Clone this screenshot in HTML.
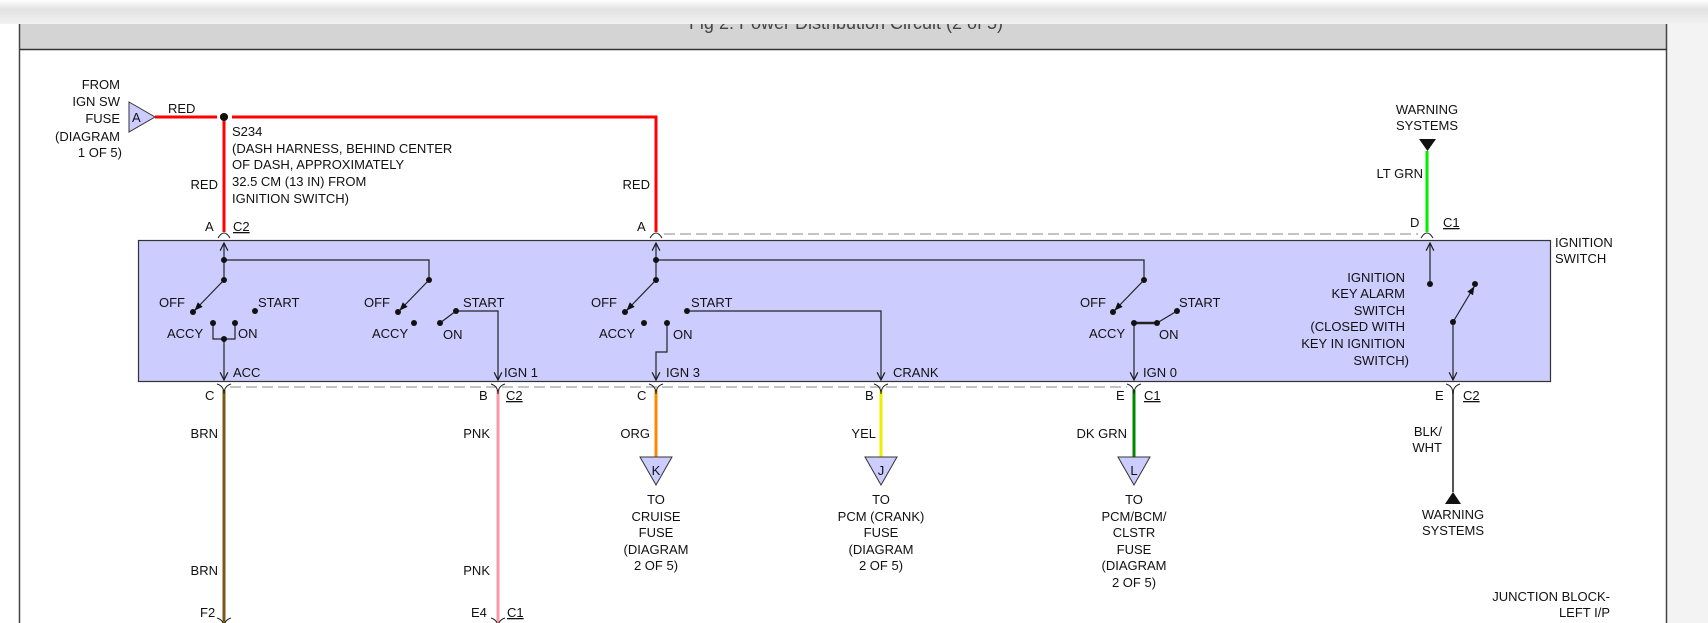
<!DOCTYPE html>
<html><head><meta charset="utf-8"><style>
html,body{margin:0;padding:0;background:#fff;width:1708px;height:623px;overflow:hidden}
svg{display:block}
text{font-family:"Liberation Sans",sans-serif;font-size:13px;fill:#111}
</style></head><body>
<svg width="1708" height="623" viewBox="0 0 1708 623">
<defs>
<linearGradient id="sh" x1="0" y1="0" x2="0" y2="1"><stop offset="0" stop-color="#fff"/><stop offset="0.4" stop-color="#e2e2e2"/><stop offset="1" stop-color="#f2f2f2"/></linearGradient>
<marker id="ar" viewBox="0 0 10 10" refX="9" refY="5" markerWidth="8" markerHeight="8" orient="auto-start-reverse"><path d="M1,1 L9,5 L1,9" fill="none" stroke="#222" stroke-width="1.3"/></marker>
<marker id="ab" viewBox="0 0 10 10" refX="9" refY="5" markerWidth="7" markerHeight="7" orient="auto"><path d="M0,1 L10,5 L0,9 z" fill="#111"/></marker>
</defs>
<!-- frame -->
<rect x="1667" y="0" width="41" height="623" fill="#f3f3f3"/>
<rect x="19" y="24" width="1648" height="25" fill="#d4d4d4"/>
<text x="846" y="29" text-anchor="middle" style="font-size:18px;fill:#444">Fig 2: Power Distribution Circuit (2 of 5)</text>
<rect x="0" y="0" width="1708" height="24" fill="url(#sh)"/>
<line x1="19.5" y1="24" x2="19.5" y2="623" stroke="#444" stroke-width="1.5"/>
<line x1="1666.5" y1="24" x2="1666.5" y2="623" stroke="#444" stroke-width="1.5"/>
<line x1="20" y1="49.5" x2="1667" y2="49.5" stroke="#333" stroke-width="1.5"/>

<!-- box -->
<rect x="138.5" y="240.5" width="1412" height="141" fill="#ccccff" stroke="#333" stroke-width="1.2"/>
<text x="1555" y="247">IGNITION</text><text x="1555" y="263">SWITCH</text>

<!-- dashed lines -->
<line x1="664" y1="234" x2="1418" y2="234" stroke="#888" stroke-dasharray="11,5"/>
<line x1="230" y1="387" x2="1127" y2="387" stroke="#888" stroke-dasharray="11,5"/>

<!-- input -->
<text x="120" y="89" text-anchor="end">FROM</text>
<text x="120" y="106" text-anchor="end">IGN SW</text>
<text x="120" y="123" text-anchor="end">FUSE</text>
<text x="120" y="141" text-anchor="end">(DIAGRAM</text>
<text x="122" y="157" text-anchor="end">1 OF 5)</text>
<polygon points="129,102 155,117 129,132" fill="#ccccff" stroke="#333"/>
<text x="132" y="122">A</text>
<text x="168" y="113">RED</text>
<path d="M155,117 H656 V232" fill="none" stroke="#f00" stroke-width="3"/>
<line x1="224" y1="117" x2="224" y2="232" stroke="#f00" stroke-width="3"/>
<rect x="214" y="110" width="20" height="5" fill="#fff"/>
<line x1="224" y1="117" x2="224" y2="232" stroke="#f00" stroke-width="3"/>
<rect x="217" y="106" width="3" height="20" fill="#fff"/><rect x="228" y="106" width="4" height="20" fill="#fff"/>
<line x1="224" y1="124" x2="224" y2="232" stroke="#f00" stroke-width="3"/>
<line x1="155" y1="117" x2="216" y2="117" stroke="#f00" stroke-width="3"/>
<line x1="232" y1="117" x2="656" y2="117" stroke="#f00" stroke-width="3"/>
<circle cx="224" cy="117" r="4" fill="#111"/>
<text x="232" y="136">S234</text>
<text x="232" y="153">(DASH HARNESS, BEHIND CENTER</text>
<text x="232" y="169">OF DASH, APPROXIMATELY</text>
<text x="232" y="186">32.5 CM (13 IN) FROM</text>
<text x="232" y="203">IGNITION SWITCH)</text>
<text x="218" y="189" text-anchor="end">RED</text>
<text x="650" y="189" text-anchor="end">RED</text>
<text x="205" y="231">A</text><text x="233" y="231" text-decoration="underline">C2</text>
<text x="637" y="231">A</text>

<!-- top connectors -->
<g fill="none" stroke="#222" stroke-width="1">
<path d="M218,238 Q224,228 230,238"/><path d="M650,238 Q656,228 662,238"/><path d="M1421,238 Q1427,228 1433,238"/>
</g>

<!-- warning top -->
<text x="1427" y="114" text-anchor="middle">WARNING</text>
<text x="1427" y="130" text-anchor="middle">SYSTEMS</text>
<polygon points="1419,139 1436,139 1427.5,151" fill="#111"/>
<line x1="1427" y1="151" x2="1427" y2="232" stroke="#0e0" stroke-width="3"/>
<text x="1423" y="178" text-anchor="end">LT GRN</text>
<text x="1410" y="227">D</text><text x="1443" y="227" text-decoration="underline">C1</text>

<!-- internal wiring -->
<g fill="none" stroke="#222" stroke-width="1.2">
<!-- sec1 -->
<line x1="224" y1="260" x2="224" y2="243" marker-end="url(#ar)"/>
<path d="M224,260 H429 V280"/>
<line x1="224" y1="260" x2="224" y2="280"/>
<line x1="224" y1="280" x2="195" y2="310" marker-end="url(#ab)"/>
<path d="M213,323 V339 H235 V323"/>
<line x1="224" y1="339" x2="224" y2="380" marker-end="url(#ar)"/>
<!-- sec2 -->
<line x1="429" y1="280" x2="400" y2="310" marker-end="url(#ab)"/>
<line x1="440" y1="323" x2="456" y2="311"/>
<path d="M456,311 H498 V380" marker-end="url(#ar)"/>
<!-- sec3 -->
<line x1="656" y1="260" x2="656" y2="243" marker-end="url(#ar)"/>
<path d="M656,260 H1144 V280"/>
<line x1="656" y1="260" x2="656" y2="280"/>
<line x1="656" y1="280" x2="627" y2="310" marker-end="url(#ab)"/>
<path d="M687,311 H881 V380" marker-end="url(#ar)"/>
<path d="M667,323 V352 H656 V380" marker-end="url(#ar)"/>
<!-- sec4 -->
<line x1="1144" y1="280" x2="1115" y2="310" marker-end="url(#ab)"/>
<line x1="1134" y1="323" x2="1157" y2="323" stroke-width="2.5"/>
<line x1="1157" y1="323" x2="1177" y2="311"/>
<line x1="1134" y1="323" x2="1134" y2="380" marker-end="url(#ar)"/>
<!-- sec5 -->
<line x1="1430" y1="284" x2="1430" y2="243" marker-end="url(#ar)"/>
<line x1="1453" y1="322" x2="1474" y2="287" marker-end="url(#ab)"/>
<line x1="1453" y1="322" x2="1453" y2="380" marker-end="url(#ar)"/>
</g>
<g fill="#111">
<circle cx="224" cy="260" r="3"/><circle cx="224" cy="280" r="3"/><circle cx="193" cy="312" r="3"/><circle cx="255" cy="311" r="3"/>
<circle cx="213" cy="323" r="3"/><circle cx="235" cy="323" r="3"/><circle cx="224" cy="339" r="3"/>
<circle cx="429" cy="280" r="3"/><circle cx="398" cy="312" r="3"/><circle cx="414" cy="323" r="3"/><circle cx="440" cy="323" r="3"/><circle cx="456" cy="311" r="3"/>
<circle cx="656" cy="260" r="3"/><circle cx="656" cy="280" r="3"/><circle cx="625" cy="312" r="3"/><circle cx="687" cy="311" r="3"/>
<circle cx="644" cy="323" r="3"/><circle cx="667" cy="323" r="3"/>
<circle cx="1144" cy="280" r="3"/><circle cx="1113" cy="312" r="3"/><circle cx="1134" cy="323" r="3"/><circle cx="1157" cy="323" r="3"/><circle cx="1177" cy="311" r="3"/>
<circle cx="1430" cy="284" r="3"/><circle cx="1453" cy="322" r="3"/><circle cx="1475" cy="284" r="3"/>
</g>
<text x="159" y="307">OFF</text><text x="258" y="307">START</text><text x="167" y="338">ACCY</text><text x="238" y="338">ON</text>
<text x="364" y="307">OFF</text><text x="463" y="307">START</text><text x="372" y="338">ACCY</text><text x="443" y="339">ON</text>
<text x="591" y="307">OFF</text><text x="691" y="307">START</text><text x="599" y="338">ACCY</text><text x="673" y="339">ON</text>
<text x="1080" y="307">OFF</text><text x="1179" y="307">START</text><text x="1089" y="338">ACCY</text><text x="1159" y="339">ON</text>
<g text-anchor="end"><text x="1405" y="282">IGNITION</text><text x="1405" y="298">KEY ALARM</text><text x="1405" y="315">SWITCH</text><text x="1405" y="331">(CLOSED WITH</text><text x="1405" y="348">KEY IN IGNITION</text><text x="1409" y="365">SWITCH)</text></g>
<text x="233" y="377">ACC</text><text x="504" y="377">IGN 1</text><text x="666" y="377">IGN 3</text><text x="893" y="377">CRANK</text><text x="1143" y="377">IGN 0</text>

<!-- bottom wires -->
<line x1="224" y1="390" x2="224" y2="623" stroke="#7a5a10" stroke-width="3"/>
<line x1="498" y1="390" x2="498" y2="623" stroke="#f799a8" stroke-width="3"/>
<line x1="656" y1="390" x2="656" y2="457" stroke="#f80" stroke-width="3"/>
<line x1="881" y1="390" x2="881" y2="457" stroke="#ee0" stroke-width="3"/>
<line x1="1134" y1="390" x2="1134" y2="457" stroke="#080" stroke-width="3"/>
<line x1="1453" y1="390" x2="1453" y2="492" stroke="#555" stroke-width="2"/>
<g fill="none" stroke="#222" stroke-width="1">
<path d="M217,384 Q224,386 224,394 Q224,386 231,384"/><path d="M491,384 Q498,386 498,394 Q498,386 505,384"/>
<path d="M649,384 Q656,386 656,394 Q656,386 663,384"/><path d="M874,384 Q881,386 881,394 Q881,386 888,384"/>
<path d="M1127,384 Q1134,386 1134,394 Q1134,386 1141,384"/><path d="M1446,384 Q1453,386 1453,394 Q1453,386 1460,384"/>
<path d="M217,618 Q224,620 224,628 Q224,620 231,618"/><path d="M491,618 Q498,620 498,628 Q498,620 505,618"/>
</g>
<text x="205" y="400">C</text>
<text x="479" y="400">B</text><text x="506" y="400" text-decoration="underline">C2</text>
<text x="637" y="400">C</text>
<text x="865" y="400">B</text>
<text x="1116" y="400">E</text><text x="1144" y="400" text-decoration="underline">C1</text>
<text x="1435" y="400">E</text><text x="1463" y="400" text-decoration="underline">C2</text>

<g text-anchor="end">
<text x="218" y="438">BRN</text><text x="490" y="438">PNK</text><text x="650" y="438">ORG</text><text x="876" y="438">YEL</text><text x="1127" y="438">DK GRN</text>
<text x="1442" y="436">BLK/</text><text x="1442" y="452">WHT</text>
<text x="218" y="575">BRN</text><text x="490" y="575">PNK</text>
<text x="1610" y="601">JUNCTION BLOCK-</text><text x="1610" y="617">LEFT I/P</text>
</g>
<text x="200" y="617">F2</text><text x="471" y="617">E4</text><text x="507" y="617" text-decoration="underline">C1</text>

<g fill="#ccccff" stroke="#333">
<polygon points="640,457 672,457 656,485"/><polygon points="865,457 897,457 881,485"/><polygon points="1118,457 1150,457 1134,485"/>
</g>
<text x="656" y="475" text-anchor="middle">K</text><text x="881" y="475" text-anchor="middle">J</text><text x="1134" y="475" text-anchor="middle">L</text>
<g text-anchor="middle">
<text x="656" y="504">TO</text><text x="656" y="521">CRUISE</text><text x="656" y="537">FUSE</text><text x="656" y="554">(DIAGRAM</text><text x="656" y="570">2 OF 5)</text>
<text x="881" y="504">TO</text><text x="881" y="521">PCM (CRANK)</text><text x="881" y="537">FUSE</text><text x="881" y="554">(DIAGRAM</text><text x="881" y="570">2 OF 5)</text>
<text x="1134" y="504">TO</text><text x="1134" y="521">PCM/BCM/</text><text x="1134" y="537">CLSTR</text><text x="1134" y="554">FUSE</text><text x="1134" y="570">(DIAGRAM</text><text x="1134" y="587">2 OF 5)</text>
<text x="1453" y="519">WARNING</text><text x="1453" y="535">SYSTEMS</text>
</g>
<polygon points="1445,504 1461,504 1453,492" fill="#111"/>
</svg>
</body></html>
